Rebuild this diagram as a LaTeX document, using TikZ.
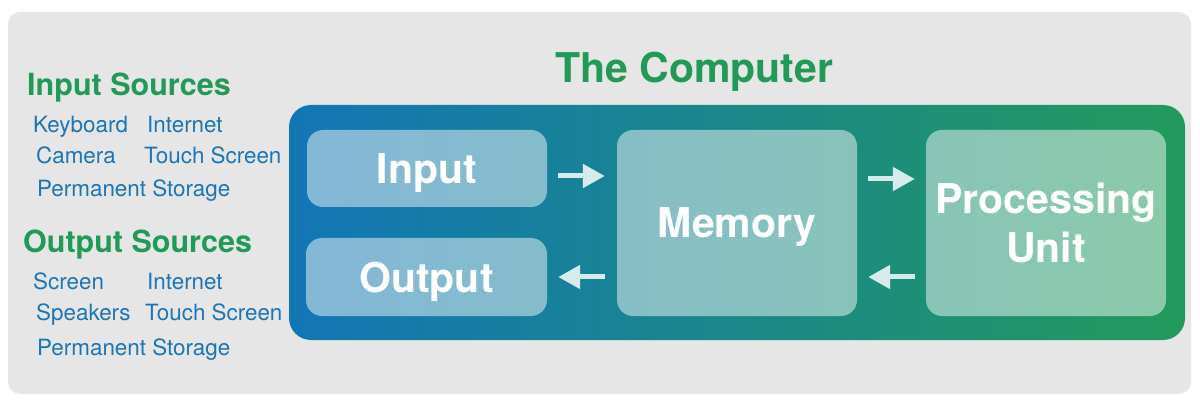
\documentclass[tikz,border=0pt]{standalone}
\usepackage{fontspec}
\setmainfont{TeX Gyre Heros}
\usetikzlibrary{arrows.meta}
\definecolor{bggray}{HTML}{E6E6E6}
\definecolor{titlegreen}{HTML}{219A58}
\definecolor{labelblue}{HTML}{1C75B8}
\definecolor{gradblue}{HTML}{1276B6}
\definecolor{gradgreen}{HTML}{229A5C}
\definecolor{arrowcol}{HTML}{D6EBEC}
\tikzset{
  heading/.style={anchor=base west, inner sep=0pt, text=titlegreen, font=\fontsize{30.5}{36}\selectfont\bfseries},
  item/.style={anchor=base west, inner sep=0pt, text=labelblue, font=\fontsize{22.4}{27}\selectfont},
  unitbox/.style={rectangle, rounded corners=16pt, fill=white, fill opacity=0.48, text opacity=1, text=white,
    inner sep=0pt, align=center, font=\fontsize{41}{49}\selectfont\bfseries},
  oneline/.style={text height=30pt, text depth=0pt},
  flow/.style={draw=arrowcol, line width=5pt, -{Triangle[length=22pt,width=23pt]}}
}
\begin{document}
\begin{tikzpicture}[x=1pt,y=-1pt]
\useasboundingbox (0,0) rectangle (1200,406);
\fill[bggray, rounded corners=12pt] (8,12) rectangle (1191,394);
% main gradient box
\shade[left color=gradblue, right color=gradgreen, rounded corners=22pt] (289,105) rectangle (1185,340);
\node[anchor=base west, inner sep=0pt, text=titlegreen, font=\fontsize{41}{49}\selectfont\bfseries] (title) at (555,83) {The Computer};
% unit boxes
\node[unitbox, oneline, minimum width=240pt, minimum height=77pt] (input) at (427,168.5) {Input};
\node[unitbox, oneline, minimum width=241pt, minimum height=78pt] (output) at (426.5,277) {Output};
\node[unitbox, oneline, minimum width=240pt, minimum height=186pt] (memory) at (737,223) {Memory};
\node[unitbox, minimum width=240pt, minimum height=186pt] (pu) at (1046,223) {Processing\\Unit};
% arrows
\draw[flow, shorten <=11pt, shorten >=12pt] (input.east |- 0,176) -- (memory.west |- 0,176);
\draw[flow, shorten <=11pt, shorten >=11pt] (memory.east |- 0,179) -- (pu.west |- 0,179);
\draw[flow, shorten <=11pt, shorten >=11pt] (pu.west |- 0,277) -- (memory.east |- 0,277);
\draw[flow, shorten <=12pt, shorten >=11pt] (memory.west |- 0,277) -- (output.east |- 0,277);
% left lists
\node[heading] (insrc) at (27,96) {Input Sources};
\node[item] (kb) at (33,133) {Keyboard};
\node[item] (inet1) at (147,133) {Internet};
\node[item] (cam) at (36,164) {Camera};
\node[item] (ts1) at (144,164) {Touch Screen};
\node[item] (ps1) at (37,197) {Permanent Storage};
\node[heading] (outsrc) at (23,253) {Output Sources};
\node[item] (scr) at (33,290) {Screen};
\node[item] (inet2) at (147,290) {Internet};
\node[item] (spk) at (36,320) {Speakers};
\node[item] (ts2) at (145,320) {Touch Screen};
\node[item] (ps2) at (37,355) {Permanent Storage};
\end{tikzpicture}
\end{document}
